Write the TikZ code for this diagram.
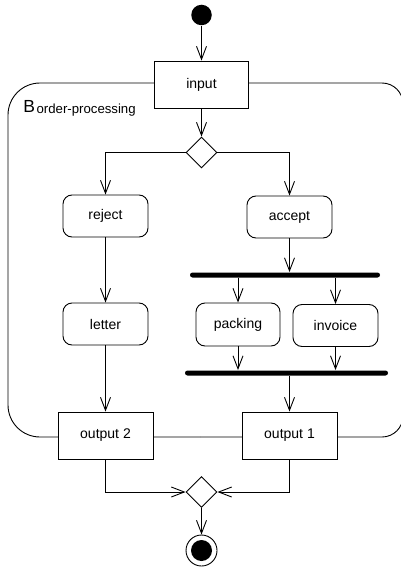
\documentclass[tikz,border=0pt]{standalone}
\usepackage{fontspec}
\setmainfont{Liberation Sans}
\usetikzlibrary{arrows.meta,shapes.geometric}
\begin{document}
\begin{tikzpicture}[x=1pt,y=-1pt,
  line width=0.9pt,
  flow/.style={-{Straight Barb[length=13pt,width=10pt,line width=0.9pt]}},
  pin/.style={draw,fill=white,rectangle,minimum width=94pt,minimum height=47pt,inner sep=0pt,
    font=\fontsize{14pt}{16pt}\selectfont},
  act/.style={draw,fill=white,rectangle,rounded corners=9pt,minimum width=85pt,minimum height=42pt,
    inner sep=0pt,font=\fontsize{14pt}{16pt}\selectfont},
  choice/.style={draw,fill=white,diamond,minimum width=31pt,minimum height=31pt,inner sep=0pt},
  bar/.style={fill=black,rectangle,rounded corners=2.5pt,minimum height=5pt,inner sep=0pt},
  dot/.style={circle,fill=black,inner sep=0pt},
]
\useasboundingbox (0,0) rectangle (401,567);
\clip (0,0) rectangle (401,567);

% activity region (left corners wider than right ones)
\draw[rounded corners=32pt] (200,83) -- (8,83) -- (8,437) -- (200,437);
\draw[rounded corners=21pt] (200,83) -- (403,83) -- (403,437) -- (200,437);
\node[anchor=base west,inner sep=0pt] (regionlabel) at (23,112.5)
  {\fontsize{17.5pt}{17.5pt}\selectfont B\hspace{1.5pt}\raisebox{-1.5pt}{\fontsize{13.2pt}{14pt}\selectfont order-processing}};

% nodes
\node[dot,minimum size=20.5pt] (start) at (201.5,15) {};
\node[pin] (input) at (201.5,84.5) {input};
\node[choice] (split) at (201.5,152.5) {};
\node[act] (reject) at (105.5,216) {reject};
\node[act] (accept) at (289.5,217) {accept};
\node[bar,minimum width=190pt] (fork) at (285,275) {};
\node[act] (letter) at (105.5,324) {letter};
\node[act,minimum width=84pt,minimum height=43pt] (packing) at (238,324.5) {packing};
\node[act] (invoice) at (335.5,325.5) {invoice};
\node[bar,minimum width=203pt] (join) at (286.5,373) {};
\node[pin,minimum width=95pt] (out2) at (105.5,435.5) {output 2};
\node[pin,minimum width=95pt] (out1) at (289.5,435.5) {output 1};
\node[choice] (merge) at (201.5,492) {};
\node[circle,draw,fill=white,minimum size=31pt,inner sep=0pt] (finish) at (201.5,550.5) {};
\node[dot,minimum size=21pt] (finishdot) at (finish.center) {};

% control flows
\draw[flow] (start) -- (input);
\draw[flow] (input) -- (split);
\draw[flow] (split.west) -| (reject.north);
\draw[flow] (split.east) -| (accept.north);
\draw[flow] (reject) -- (letter);
\draw[flow] (letter) -- (out2);
\draw[flow] (accept) -- (accept |- fork.north);
\draw[flow] (fork.south -| packing.north) -- (packing.north);
\draw[flow] (fork.south -| invoice.north) -- (invoice.north);
\draw[flow] (packing) -- (packing |- join.north);
\draw[flow] (invoice) -- (invoice |- join.north);
\draw[flow] (join.south -| out1.north) -- (out1.north);
\draw[flow] (out2.south) |- (merge.west);
\draw[flow] (out1.south) |- (merge.east);
\draw[flow] (merge) -- (finish);
\end{tikzpicture}
\end{document}
